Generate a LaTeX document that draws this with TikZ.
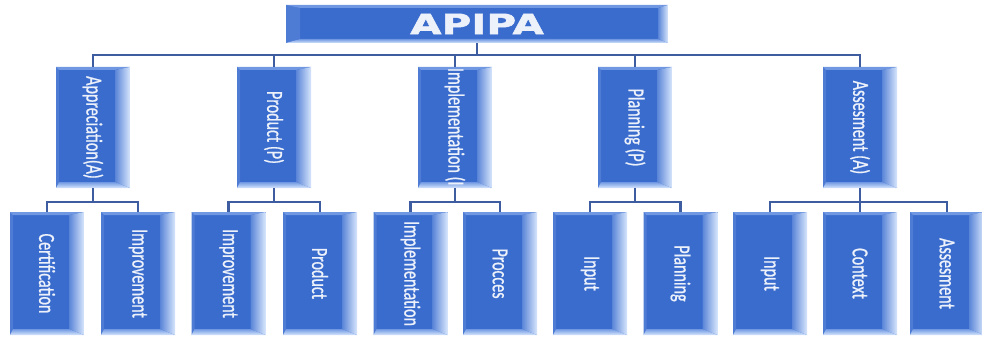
\documentclass[tikz,border=0pt]{standalone}
\usepackage{fontspec}
\usepackage{graphicx}
\usetikzlibrary{calc,positioning}
\newfontfamily\boxfont[FakeStretch=0.7, FakeBold=0.8]{Carlito}
\newfontfamily\titlefont[FakeStretch=1.45, FakeBold=2]{DejaVu Sans}
\definecolor{boxblue}{RGB}{58,108,206}
\definecolor{bevellight}{RGB}{215,230,252}
\definecolor{bevelmid}{RGB}{112,152,226}
\definecolor{linkblue}{RGB}{62,92,160}
\definecolor{textwhite}{RGB}{236,241,250}

% bevelled edges: right, bottom, top, left widths
\newcommand\bevelpic[4]{%
    \coordinate (sw) at (path picture bounding box.south west);
    \coordinate (ne) at (path picture bounding box.north east);
    \coordinate (se) at (sw -| ne);
    \coordinate (nw) at (sw |- ne);
    \fill[boxblue!90!white] (nw) -- (sw) -- ($(sw)+(#4,#2)$) -- ($(nw)+(#4,-#3)$) -- cycle;
    \fill[bevelmid] (nw) -- (ne) -- ($(ne)+(-#1,-#3)$) -- ($(nw)+(#4,-#3)$) -- cycle;
    \shade[left color=boxblue!80!bevellight, right color=bevellight] (ne) -- (se) -- ($(se)+(-#1,#2)$) -- ($(ne)+(-#1,-#3)$) -- cycle;
    \shade[top color=bevelmid, bottom color=bevellight] (sw) -- (se) -- ($(se)+(-#1,#2)$) -- ($(sw)+(#4,#2)$) -- cycle;
}

\begin{document}
\begin{tikzpicture}[
        x=1pt, y=1pt,
        topbox/.style={fill=boxblue, minimum width=382pt, minimum height=38pt, inner sep=0pt,
            text=textwhite, font=\titlefont\bfseries\fontsize{28}{28}\selectfont,
            path picture={\bevelpic{10pt}{4pt}{3pt}{14pt}}},
        lvlbox/.style={fill=boxblue, minimum width=74pt, minimum height=121pt, inner sep=0pt,
            text=textwhite, font=\boxfont\fontsize{23}{23}\selectfont,
            path picture={\bevelpic{15pt}{6pt}{3pt}{3pt}}},
        leafbox/.style={lvlbox, minimum height=123pt},
        link/.style={draw=linkblue, line width=2.2pt}
    ]
        \fill[white] (0,0) rectangle (982,338);
        \useasboundingbox (0,0) rectangle (982,338);

        % root
        \node[topbox] (apipa) at (477,314) {APIPA};

        % first level
        \node[lvlbox] (appr) at (93,210.5) {\rotatebox{-90}{Appreciation(A)}};
        \node[lvlbox] (prod) at (274,210.5) {\rotatebox{-90}{Product (P)}};
        \node[lvlbox] (impl) at (455,210.5) {};
        \node[lvlbox] (plan) at (635,210.5) {\rotatebox{-90}{Planning (P)}};
        \node[lvlbox] (asse) at (860,210.5) {\rotatebox{-90}{Assesment (A)}};

        % label runs past the bottom of its box
        \begin{scope}
            \clip (impl.south west) rectangle (impl.north east);
            \node[anchor=north, inner sep=0pt, text=textwhite, font=\boxfont\fontsize{23}{23}\selectfont]
                (impltext) at ($(impl.north)+(0,-1)$) {\rotatebox{-90}{Implementation (I}};
        \end{scope}

        % second level
        \node[leafbox] (cert) at (47,64.5) {\rotatebox{-90}{Certification}};
        \node[leafbox] (imprA) at (138,64.5) {\rotatebox{-90}{Improvement}};
        \node[leafbox] (imprP) at (228.5,64.5) {\rotatebox{-90}{Improvement}};
        \node[leafbox] (prodP) at (320,64.5) {\rotatebox{-90}{Product}};
        \node[leafbox] (implI) at (410.5,64.5) {\rotatebox{-90}{Implementation}};
        \node[leafbox] (procI) at (500,64.5) {\rotatebox{-90}{Procces}};
        \node[leafbox] (inpPl) at (590,64.5) {\rotatebox{-90}{Input}};
        \node[leafbox] (planPl) at (680.5,64.5) {\rotatebox{-90}{Planning}};
        \node[leafbox] (inpAs) at (770,64.5) {\rotatebox{-90}{Input}};
        \node[leafbox] (contAs) at (860,64.5) {\rotatebox{-90}{Context}};
        \node[leafbox] (asseAs) at (947,64.5) {\rotatebox{-90}{Assesment}};

        % connectors
        \foreach \c in {appr, prod, impl, plan, asse}
            \draw[link] (apipa.south) -- ++(0,-12) -| (\c.north);
        \foreach \p/\c in {appr/cert, appr/imprA, prod/imprP, prod/prodP, impl/implI, impl/procI,
                plan/inpPl, plan/planPl, asse/inpAs, asse/contAs, asse/asseAs}
            \draw[link] (\p.south) -- ++(0,-14) -| (\c.north);
    \end{tikzpicture}
\end{document}
